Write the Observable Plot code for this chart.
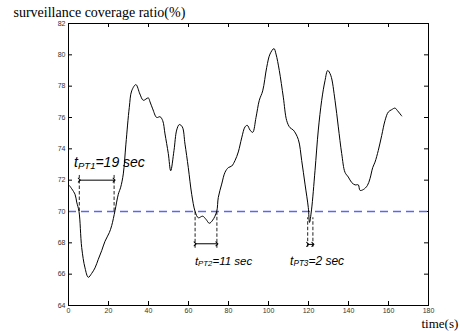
<!DOCTYPE html>
<html><head><meta charset="utf-8">
<script src="https://cdn.jsdelivr.net/npm/d3@7"></script>
<script src="https://cdn.jsdelivr.net/npm/@observablehq/plot@0.6"></script>
<style>body{margin:0;background:#fff}</style>
</head><body><div id="chart"></div>
<script>
// ---- data ----
const time  = [0.5, 3.25, 4.1, 5.25, 6.6, 8.25, 9.9, 11.6, 13.25, 14.9, 16.6, 18.25, 20.4, 21.6, 23.25, 24.9, 26.1, 27.4, 28.7, 30.4, 31.6, 33.7, 35.7, 37.4, 39.9, 40.75, 42.1, 44.1, 45.75, 47.1, 48.25, 49.9, 51.1, 52.75, 54.1, 55.4, 56.9, 58.25, 59.9, 61.6, 63.3, 64.9, 67.1, 68.75, 70.4, 72.1, 74.1, 74.9, 76.6, 78.25, 79.9, 81.6, 83.25, 84.9, 86.6, 88.25, 89.4, 90.75, 92.1, 93.75, 95.4, 97.1, 99.1, 100.75, 102.75, 103.75, 105.4, 107.4, 109.1, 110.75, 112.4, 114.9, 116.6, 118.25, 119.9, 120.5, 121.5, 123.25, 124.9, 126.6, 128.25, 129.6, 131.1, 133.25, 134.9, 136.6, 138.25, 139.9, 141.6, 143.25, 144.9, 145.75, 147.4, 149.4, 150.75, 152.1, 153.25, 154.9, 156.6, 158.25, 159.9, 161.6, 163.25, 164.4, 166.6];
const ratio = [71.65, 71.1, 70.6, 70.0, 67.7, 66.4, 65.8, 66.05, 66.4, 66.95, 67.5, 68.1, 68.65, 69.1, 70.05, 71.1, 71.55, 72.4, 74.3, 76.65, 77.7, 78.1, 77.5, 77.1, 77.25, 77.0, 76.55, 76.0, 76.05, 75.8, 74.95, 73.7, 72.6, 73.9, 75.2, 75.55, 75.4, 74.3, 72.8, 71.1, 70.0, 69.6, 69.7, 69.5, 69.25, 69.45, 70.0, 70.9, 71.75, 72.5, 72.8, 72.9, 73.25, 73.8, 74.7, 75.4, 75.5, 75.2, 75.05, 76.0, 77.1, 77.7, 79.2, 80.05, 80.4, 80.05, 79.0, 77.3, 75.8, 75.35, 75.2, 74.6, 73.25, 71.75, 70.25, 69.3, 70.1, 72.6, 75.2, 77.1, 78.35, 79.0, 78.7, 77.1, 75.4, 73.7, 72.5, 72.2, 71.85, 71.7, 71.7, 71.35, 71.4, 71.65, 72.1, 72.8, 73.15, 73.9, 74.85, 75.8, 76.35, 76.5, 76.6, 76.45, 76.1];
const xTicks = [0, 20, 40, 60, 80, 100, 120, 140, 160, 180];
const yTicks = [64, 66, 68, 70, 72, 74, 76, 78, 80, 82];
const threshold = 70;

// annotation intervals
const ptSub    = ["PT1", "PT2", "PT3"];
const ptText   = ["=19 sec", "=11 sec", "=2 sec"];
const ptStart  = [5.4, 63.3, 119.6];
const ptEnd    = [22.8, 74.2, 122.2];
const ptTop    = [72.3, 70.0, 69.6];
const ptBottom = [70.0, 67.65, 67.72];
const ptArrowY = [72.0, 67.94, 67.9];
const ptLabelX = [2.8, 63.2, 110.8];
const ptLabelY = [72.85, 66.6, 66.6];
const ptFont   = [14, 11.5, 12];

const yLabel = "surveillance coverage ratio(%)";
const xLabel = "time(s)";

// ---- layout ----
const W = 460, H = 331, mL = 68, mR = 32, mT = 23, mB = 26;
const fW = W - mL - mR, fH = H - mT - mB, tk = 4;

const pts = ptSub.map((s, i) => ({i, sub: s, txt: ptText[i], t0: ptStart[i], t1: ptEnd[i], top: ptTop[i], bottom: ptBottom[i], ay: ptArrowY[i], lx: ptLabelX[i], ly: ptLabelY[i], fs: ptFont[i]}));
const vlines = pts.flatMap(d => [{x: d.t0, y1: d.bottom, y2: d.top}, {x: d.t1, y1: d.bottom, y2: d.top}]);

const plot = Plot.plot({
  width: W, height: H,
  marginLeft: mL, marginRight: mR, marginTop: mT, marginBottom: mB,
  x: {domain: [0, 180], ticks: xTicks},
  y: {domain: [64, 82], ticks: yTicks},
  marks: [
    Plot.axisX({ticks: xTicks, tickSize: 0, tickPadding: 3, fontSize: 7, fontFamily: "Liberation Sans", fill: "#333", label: null}),
    Plot.axisY({ticks: yTicks, tickSize: 0, tickPadding: 3, fontSize: 7, fontFamily: "Liberation Sans", fill: "#333", label: null}),
    Plot.tickX(xTicks, {x: d => d, insetTop: fH - tk, stroke: "#000"}),
    Plot.tickX(xTicks, {x: d => d, insetBottom: fH - tk, stroke: "#000"}),
    Plot.tickY(yTicks, {y: d => d, insetRight: fW - tk, stroke: "#000"}),
    Plot.tickY(yTicks, {y: d => d, insetLeft: fW - tk, stroke: "#000"}),
    Plot.ruleY([threshold], {stroke: "#5b66f2", strokeWidth: 1.4, strokeDasharray: "8,5"}),
    Plot.ruleX(vlines, {x: "x", y1: "y1", y2: "y2", stroke: "#222", strokeDasharray: "3.5,2"}),
    Plot.link(pts, {x1: "t0", x2: "t1", y1: "ay", y2: "ay", stroke: "#000", markerStart: "arrow", markerEnd: "arrow"}),
    Plot.line(ratio, {x: time, y: ratio, stroke: "#000", strokeWidth: 1, curve: "catmull-rom"}),
    Plot.text(pts, {x: "lx", y: "ly", text: d => "t" + d.sub + d.txt, textAnchor: "start", lineAnchor: "bottom", fontStyle: "italic", fontSize: d => d.fs, fontFamily: "Liberation Sans", fill: "#000"}),
    Plot.text([yLabel], {frameAnchor: "top-left", dx: -55, dy: -7, textAnchor: "start", lineAnchor: "bottom", fontSize: 14, fontFamily: "Liberation Serif"}),
    Plot.text([xLabel], {frameAnchor: "bottom-right", dx: -7, dy: 22, textAnchor: "start", lineAnchor: "bottom", fontSize: 13, fontFamily: "Liberation Serif"}),
    Plot.frame({stroke: "#000", strokeWidth: 1})
  ]
});

// subscripts for the t_PT labels
d3.select(plot).selectAll("text").each(function() {
  const el = this;
  const s = el.textContent;
  const p = pts.find(d => s === "t" + d.sub + d.txt);
  if (!p) return;
  const fs = p.fs, sfs = fs * 0.68, shift = fs * 0.12;
  el.textContent = "";
  const sel = d3.select(el);
  sel.append("tspan").text("t");
  sel.append("tspan").attr("font-size", sfs).attr("dy", shift).text(p.sub);
  sel.append("tspan").attr("font-size", fs).attr("dy", -shift).text(p.txt);
});

document.getElementById("chart").appendChild(plot);
</script>
</body></html>
